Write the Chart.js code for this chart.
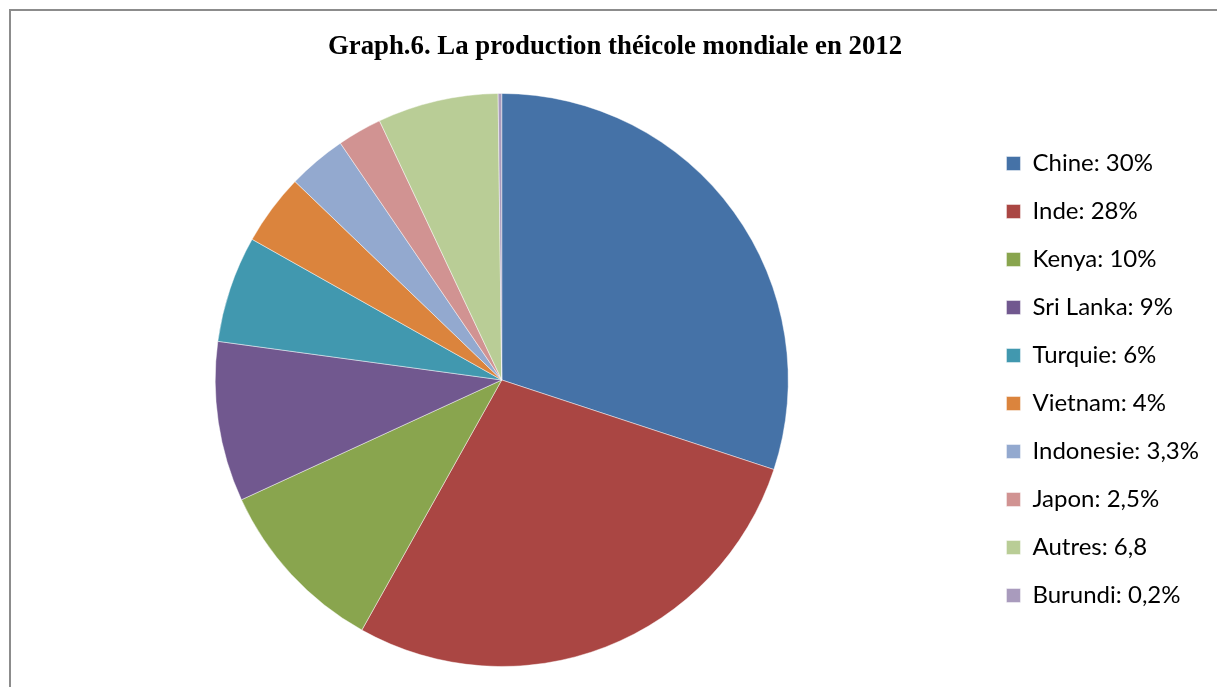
<!DOCTYPE html>
<html>
<head>
<meta charset="utf-8">
<script src="https://cdn.jsdelivr.net/npm/chart.js@4"></script>
<style>
  html, body { margin: 0; padding: 0; background: #fff; overflow: hidden; }
  #frame { position: absolute; left: 9px; top: 9px; width: 1400px; height: 900px; border-top: 2px solid #8c8c8c; border-left: 2px solid #8c8c8c; }
  #wrap { position: absolute; left: 0; top: 0; width: 1217px; height: 687px; }
</style>
</head>
<body>
<div id="frame"></div>
<div id="wrap"><canvas id="c"></canvas></div>
<script>
const titleText = "Graph.6. La production théicole mondiale en 2012";
const categories = ["Chine: 30%", "Inde: 28%", "Kenya: 10%", "Sri Lanka: 9%", "Turquie: 6%", "Vietnam: 4%", "Indonesie: 3,3%", "Japon: 2,5%", "Autres: 6,8", "Burundi: 0,2%"];
const values = [30, 28, 10, 9, 6, 4, 3.3, 2.5, 6.8, 0.2];
const colors = ["#4572A7", "#AA4643", "#89A54E", "#71588F", "#4198AF", "#DB843D", "#93A9CF", "#D19392", "#B9CD96", "#A99BBD"];

new Chart(document.getElementById('c'), {
  type: 'pie',
  data: {
    labels: categories,
    datasets: [{
      data: values,
      backgroundColor: colors,
      borderColor: 'rgba(255,255,255,0.45)',
      borderWidth: 1
    }]
  },
  options: {
    responsive: true,
    maintainAspectRatio: false,
    animation: false,
    layout: { padding: { left: 21, right: 8, top: 0, bottom: 20 } },
    plugins: {
      tooltip: { enabled: false },
      title: {
        display: true,
        text: titleText,
        color: '#000',
        font: { family: '"Liberation Serif", "Times New Roman", serif', size: 26.8, weight: 'bold' },
        padding: { top: 31, bottom: 29.8 }
      },
      legend: {
        position: 'right',
        title: {
          display: true,
          text: ' ',
          font: { size: 10 },
          padding: { top: 80, bottom: 0 }
        },
        labels: {
          color: '#000',
          font: { family: 'Lato, "Open Sans", sans-serif', size: 24 },
          boxWidth: 14,
          boxHeight: 14,
          padding: 24
        }
      }
    }
  }
});
</script>
</body>
</html>
